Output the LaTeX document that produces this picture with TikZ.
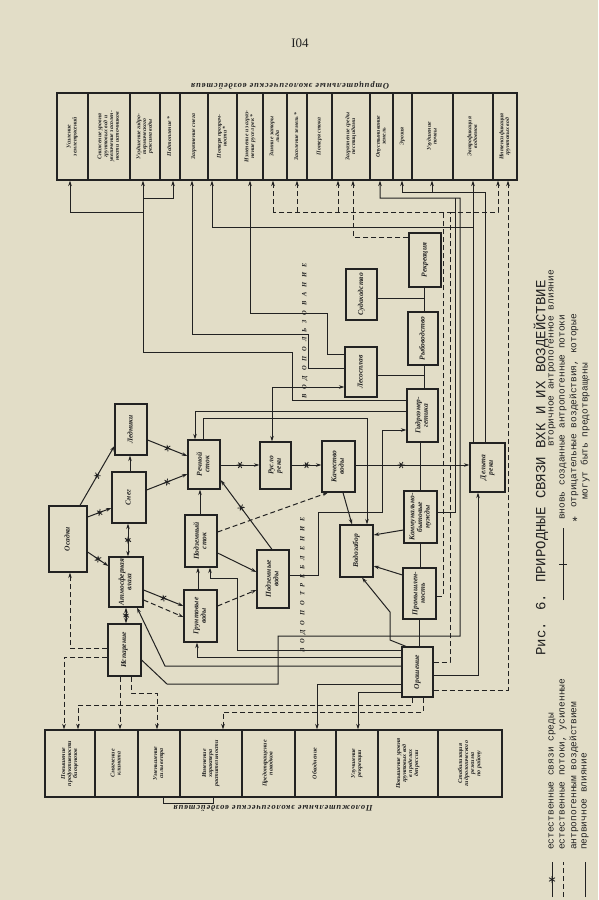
\documentclass[tikz,border=0pt]{standalone}
\usepackage{fontspec}
\setmainfont{Liberation Serif}
\newfontfamily\tw{Liberation Mono}
\usetikzlibrary{arrows.meta,decorations.markings}
\definecolor{paper}{HTML}{E2DDC7}
\definecolor{ink}{HTML}{222222}
\newcommand\vt[2][6]{\rotatebox{90}{\fontsize{#1}{#1}\selectfont\begin{tabular}{@{}c@{}}#2\end{tabular}}}
\tikzset{
 box/.style={draw=ink,line width=1.2pt,rectangle,inner sep=0pt,font=\itshape\bfseries},
 col/.style={draw=ink,line width=1.1pt,rectangle,inner sep=0pt,font=\itshape\bfseries},
 ln/.style={draw=ink,line width=1pt},
 arr/.style={-{Stealth[length=5.5pt,width=3.5pt]}},
 arrb/.style={{Stealth[length=5.5pt,width=3.5pt]}-{Stealth[length=5.5pt,width=3.5pt]}},
 dsh/.style={dash pattern=on 5pt off 3pt},
 starred/.style={postaction={decorate,decoration={markings,mark=at position #1 with {\draw[ink,solid,line width=0.8pt] (-3.5pt,0)--(3.5pt,0) (-1.8pt,-3pt)--(1.8pt,3pt) (1.8pt,-3pt)--(-1.8pt,3pt);}}}},
 starred/.default=0.5,
 lgd/.style={rotate=90,anchor=west,inner sep=0pt,font=\tw\fontsize{9.5}{10}\selectfont},
}
\newcommand\mkbox[6]{\node[box,minimum width={(#4-#2)*1pt},minimum height={(#5-#3)*1pt}] (#1) at ({(#2+#4)/2},{(#3+#5)/2}) {\vt[7.5]{#6}};}
\newcommand\mkcol[4]{\node[col,minimum width={(#3-#2)*1pt},minimum height=87pt] (#1) at ({(#2+#3)/2},136.5) {\vt[5.8]{#4}};}
\newcommand\mkbot[4]{\node[col,minimum width={(#3-#2)*1pt},minimum height=67pt] (#1) at ({(#2+#3)/2},763.5) {\vt[6]{#4}};}
\begin{document}
\begin{tikzpicture}[x=1pt,y=-1pt,color=ink]
\useasboundingbox (0,0) rectangle (598,900);
\fill[paper] (0,0) rectangle (598,900);
\node[font=\fontsize{13}{13}\selectfont] (pnum) at (300,43) {I04};
\node[rotate=180,font=\itshape\bfseries\fontsize{8.5}{9}\selectfont\addfontfeature{LetterSpace=10}] (hneg) at (290,86) {Отрицательные экологические воздействия};
\node[rotate=180,font=\itshape\bfseries\fontsize{8.5}{9}\selectfont\addfontfeature{LetterSpace=10}] (hpos) at (273,809) {Положительные экологические воздействия};
% top row
\mkcol{t1}{57}{88}{Усиление\\землетрясений}
\mkcol{t2}{88}{130}{Снижение уровня\\грунтовых вод и\\увеличение засолен-\\ности источников}
\mkcol{t3}{130}{160}{Ухудшение гидро-\\термического\\режима воды}
\mkcol{t4}{160}{180}{Подтопление *}
\mkcol{t5}{180}{208}{Загрязнение снега\\*}
\mkcol{t6}{208}{237}{Потеря прозрач-\\ности *}
\mkcol{t7}{237}{263}{Изменение и загряз-\\нение русел рек *}
\mkcol{t8}{263}{287}{Зимние заторы\\льда}
\mkcol{t9}{287}{307}{Засоление земель *}
\mkcol{t10}{307}{332}{Потеря стока}
\mkcol{t11}{332}{370}{Загрязнение среды\\пестицидами}
\mkcol{t12}{370}{393}{Опустынивание\\земель}
\mkcol{t13}{393}{412}{Эрозия}
\mkcol{t14}{412}{453}{Ухудшение\\почвы}
\mkcol{t15}{453}{493}{Эвтрофикация\\водоемов}
\mkcol{t16}{493}{517}{Интенсификация\\грунтовых вод}
% bottom row
\mkbot{b1}{45}{95}{Повышение\\продуктивности\\биоценозов}
\mkbot{b2}{95}{138}{Смягчение\\климата}
\mkbot{b3}{138}{180}{Уменьшение\\силы ветра}
\mkbot{b4}{180}{242}{Изменение\\характера\\растительности}
\mkbot{b5}{242}{295}{Предотвращение\\паводков}
\mkbot{b6}{295}{336}{Обводнение}
\mkbot{b7}{336}{378}{Улучшение\\рекреации}
\mkbot{b8}{378}{438}{Повышение уровня\\грунтовых вод\\в пределах\\депрессии}
\mkbot{b9}{438}{502}{Стабилизация\\гидрологического\\режима\\по району}
\draw[ln] (b3.south -| 163,0) -- (163,803) -- (213,803) -- (b4.south -| 213,0);
% central boxes
\mkbox{osadki}{49}{506}{87}{572}{Осадки}
\mkbox{sneg}{112}{472}{146}{523}{Снег}
\mkbox{ledniki}{115}{404}{147}{455}{Ледники}
\mkbox{atm}{109}{557}{143}{607}{Атмосферная\\влага}
\mkbox{isp}{108}{624}{141}{676}{Испарение}
\mkbox{rech}{188}{440}{220}{489}{Речной\\сток}
\mkbox{podst}{185}{515}{217}{567}{Подземный\\сток}
\mkbox{grunt}{184}{590}{217}{642}{Грунтовые\\воды}
\mkbox{podv}{257}{550}{289}{608}{Подземные\\воды}
\mkbox{ruslo}{260}{442}{291}{489}{Русло\\реки}
\mkbox{kach}{322}{441}{355}{492}{Качество\\воды}
\mkbox{vozv}{340}{525}{373}{577}{Водозабор}
\mkbox{komm}{404}{491}{437}{543}{Коммунально-\\бытовые\\нужды}
\mkbox{prom}{403}{568}{436}{619}{Промышлен-\\ность}
\mkbox{orosh}{402}{647}{433}{697}{Орошение}
\mkbox{gidro}{407}{389}{438}{442}{Гидроэнер-\\гетика}
\mkbox{ryb}{408}{312}{438}{365}{Рыбоводство}
\mkbox{rekr}{409}{233}{441}{287}{Рекреация}
\mkbox{sud}{346}{269}{377}{320}{Судоходство}
\mkbox{les}{345}{347}{377}{397}{Лесосплав}
\mkbox{delta}{470}{443}{505}{492}{Дельта\\реки}
\node[rotate=90,font=\itshape\bfseries\fontsize{6.5}{6.5}\selectfont\addfontfeature{LetterSpace=75}] (wuse) at (305,331) {ВОДОПОЛЬЗОВАНИЕ};
\node[rotate=90,font=\itshape\bfseries\fontsize{6.5}{6.5}\selectfont\addfontfeature{LetterSpace=75}] (wcons) at (303,585) {ВОДОПОТРЕБЛЕНИЕ};
% natural links
\draw[ln,arr,starred] (osadki.north -| 80,0) -- (ledniki.west |- 0,446);
\draw[ln,arr,starred] (osadki.east |- 0,517) -- (sneg.west |- 0,508);
\draw[ln,arr,starred] (osadki.east |- 0,552) -- (atm.west |- 0,566);
\draw[ln,arrb,starred] (sneg.south -| 128,0) -- (atm.north -| 128,0);
\draw[ln,arr] (sneg.north -| 130,0) -- (ledniki.south -| 130,0);
\draw[ln,arrb,starred] (atm.south -| 126,0) -- (isp.north -| 126,0);
\draw[ln,arr,starred] (ledniki.east |- 0,440) -- (rech.west |- 0,456);
\draw[ln,arr,starred] (sneg.east |- 0,490) -- (rech.west |- 0,474);
\draw[ln,arr,starred] (atm.east |- 0,590) -- (grunt.west |- 0,606);
\draw[ln,arr,dsh] (atm.east |- 0,600) -- (grunt.west |- 0,617);
\draw[ln,arr] (podst.north -| 200,0) -- (rech.south -| 200,0);
\draw[ln,arr] (grunt.north -| 198,0) -- (podst.south -| 198,0);
\draw[ln,arr,starred] (rech.east |- 0,465) -- (ruslo.west |- 0,465);
\draw[ln,arr,starred] (ruslo.east |- 0,465) -- (kach.west |- 0,465);
\draw[ln,arr,starred=0.4] (kach.east |- 0,465) -- (delta.west |- 0,465);
\draw[ln,arr] (podst.east |- 0,553) -- (podv.west |- 0,572);
\draw[ln,arr,dsh] (grunt.east |- 0,606) -- (podv.west |- 0,590);
\draw[ln,arr,starred=0.6] (podv.north -| 272,0) -- (rech.east |- 0,480);
\draw[ln,arr,dsh] (podst.east |- 0,532) -- (kach.south -| 328,0);
% water consumption / use
\draw[ln,arr] (kach.south -| 343,0) -- (vozv.north -| 352,0);
\draw[ln,arr] (komm.west |- 0,530) -- (vozv.east |- 0,535);
\draw[ln,arr] (prom.west |- 0,575) -- (vozv.east |- 0,566);
\draw[ln,arr] (orosh.north -| 406,0) -- (390,640) -- (390,612) -- (vozv.south -| 362,0);
\draw[ln] (gidro.south -| 420,0) -- (komm.north -| 420,0);
\draw[ln] (komm.south -| 420,0) -- (prom.north -| 420,0);
\draw[ln] (prom.south -| 419,0) -- (orosh.north -| 419,0);
\draw[ln] (rekr.south -| 424,0) -- (ryb.north -| 424,0);
\draw[ln] (ryb.south -| 424,0) -- (gidro.north -| 424,0);
\draw[ln] (sud.east |- 0,298) -- (424,298);
\draw[ln] (les.east |- 0,375) -- (424,375);
\draw[ln,arrb] (les.west |- 0,387) -- (272,387) -- (ruslo.north -| 272,0);
\draw[ln,arr] (gidro.west |- 0,400) -- (292,400) -- (292,352) -- (143,352) -- (t3.south -| 143,0);
\draw[ln,arr] (143,212) -- (70,212) -- (t1.south -| 70,0);
\draw[ln,arr] (143,198) -- (173,198) -- (t4.south -| 173,0);
\draw[ln,arr] (les.west |- 0,368) -- (308,368) -- (308,334) -- (192,334) -- (t5.south -| 192,0);
\draw[ln,arr] (les.west |- 0,354) -- (327,354) -- (327,313) -- (250,313) -- (t7.south -| 250,0);
\draw[ln,arr] (gidro.west |- 0,411) -- (195,411) -- (rech.north -| 195,0);
\draw[ln,arr] (rech.north -| 203,0) -- (203,418) -- (367,418) -- (vozv.north -| 367,0);
\draw[ln,arr] (podv.east |- 0,575) -- (318,575) -- (318,512) -- (382,512) -- (382,430) -- (gidro.west |- 0,430);
% irrigation
\draw[ln,arr] (orosh.west |- 0,650) -- (237,650) -- (237,578) -- (210,578) -- (podst.south -| 210,0);
\draw[ln,arr] (orosh.west |- 0,657) -- (197,657) -- (grunt.south -| 197,0);
\draw[ln,arr] (orosh.west |- 0,666) -- (165,666) -- (atm.south -| 137,0);
\draw[ln,arr] (isp.east |- 0,660) -- (167,684) -- (278,684) -- (278,636) -- (460,636) -- (460,198) -- (380,198) -- (t12.south -| 380,0);
\draw[ln,arr] (orosh.west |- 0,684) -- (317,684) -- (b6.north -| 317,0);
\draw[ln,arr] (orosh.west |- 0,692) -- (358,692) -- (b7.north -| 358,0);
\draw[ln,arr,dsh] (orosh.south -| 412,0) -- (412,705) -- (78,705) -- (b1.north -| 78,0);
\draw[ln,arr,dsh] (orosh.south -| 423,0) -- (423,712) -- (223,712) -- (b4.north -| 223,0);
\draw[ln,arr,dsh] (isp.south -| 120,0) -- (b2.north -| 120,0);
\draw[ln,arr,dsh] (isp.south -| 131,0) -- (131,693) -- (157,693) -- (b3.north -| 157,0);
\draw[ln,arr,dsh] (isp.west |- 0,657) -- (64,657) -- (b1.north -| 64,0);
\draw[ln,arr,dsh] (isp.west |- 0,648) -- (70,648) -- (osadki.south -| 70,0);
% right side
\draw[ln,dsh] (orosh.east |- 0,662) -- (450,662) -- (450,212) -- (273,212);
\draw[ln,arr,dsh] (273,212) -- (t8.south -| 273,0);
\draw[ln,arr,dsh] (297,212) -- (t9.south -| 297,0);
\draw[ln,arr,dsh] (338,212) -- (t11.south -| 338,0);
\draw[ln,arr,dsh] (450,212) -- (498,212) -- (t16.south -| 498,0);
\draw[ln,dsh] (prom.east |- 0,596) -- (443,596) -- (443,212);
\draw[ln,arr,dsh] (orosh.east |- 0,690) -- (508,690) -- (t16.south -| 508,0);
\draw[ln,arr,dsh] (rekr.west |- 0,237) -- (353,237) -- (t11.south -| 353,0);
\draw[ln] (komm.east |- 0,512) -- (455,512) -- (455,198);
\draw[ln,arr] (delta.north -| 485,0) -- (485,192) -- (402,192) -- (t13.south -| 402,0);
\draw[ln,arr] (432,192) -- (t14.south -| 432,0);
\draw[ln,arr] (delta.north -| 473,0) -- (t15.south -| 473,0);
\draw[ln,arr] (473,227) -- (212,227) -- (t6.south -| 212,0);
\draw[ln,arr] (orosh.east |- 0,675) -- (478,675) -- (delta.south -| 478,0);
% title and legend
\node[rotate=90,font=\tw\fontsize{14}{14}\selectfont] (title) at (541,468) {Рис. 6. ПРИРОДНЫЕ СВЯЗИ ВХК И ИХ ВОЗДЕЙСТВИЕ};
\draw[ln,starred] (552,897) -- (552,862);
\draw[ln,dsh] (563,897) -- (563,862);
\draw[ln] (585,897) -- (585,862);
\draw[ln] (563,600) -- (563,528);
\draw[ln] (559,564) -- (567,564);
\node[font=\tw\fontsize{13}{13}\selectfont] (lstar) at (575,522) {*};
\node[lgd] (lg1) at (552,850) {естественные связи среды};
\node[lgd] (lg2) at (563,850) {естественные потоки, усиленные};
\node[lgd] (lg3) at (574,850) {антропогенным воздействием};
\node[lgd] (lg4) at (585,850) {первичное влияние};
\node[lgd] (lg5) at (552,447) {вторичное антропогенное влияние};
\node[lgd] (lg6) at (563,520) {вновь созданные антропогенные потоки};
\node[lgd] (lg7) at (574,508) {отрицательные воздействия, которые};
\node[lgd] (lg8) at (585,500) {могут быть предотвращены};
\end{tikzpicture}
\end{document}
